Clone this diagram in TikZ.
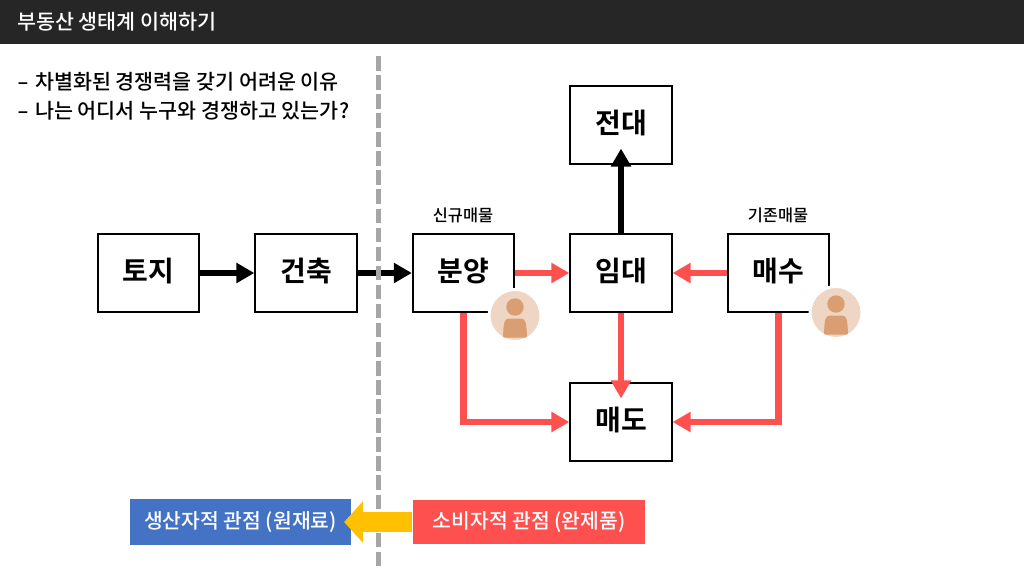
\documentclass[tikz,border=0pt]{standalone}
\usepackage{fontspec}
\setmainfont{Noto Sans CJK KR}[BoldFont={Noto Sans CJK KR Bold}]
\newfontfamily\medfont{Noto Sans CJK KR Medium}
\usetikzlibrary{arrows.meta}
\definecolor{barc}{HTML}{262626}
\definecolor{redc}{HTML}{FF5050}
\definecolor{bluec}{HTML}{4472C4}
\definecolor{yelc}{HTML}{FFC000}
\definecolor{dashc}{HTML}{A6A6A6}
\definecolor{skinbg}{HTML}{EFD5C3}
\definecolor{skinfg}{HTML}{D99F73}
\tikzset{
  x=0.75pt,y=-0.75pt,
  box/.style={draw=black,line width=1.5pt,fill=white,minimum width=76pt,minimum height=58.8pt,inner sep=0pt,text height=18pt,text depth=4.6pt,font=\fontsize{21}{25}\selectfont\bfseries},
  blackarrow/.style={line width=5pt,black,-{Triangle[length=13.5pt,width=14.5pt]}},
  redarrow/.style={line width=5pt,redc,-{Triangle[length=13.5pt,width=14.5pt]}},
  into/.style={shorten >=-12.5pt},
  caption/.style={inner sep=0pt,font=\fontsize{12.3}{15}\medfont},
  view/.style={inner sep=0pt,text=white,font=\fontsize{15.3}{18}\medfont},
  avatarbg/.style={circle,fill=skinbg,draw=white,line width=2.2pt,minimum size=39pt,inner sep=0pt},
  bullet/.style={anchor=west,inner sep=0pt,font=\fontsize{15.5}{19}\medfont}
}
\newcommand{\wdash}{\scalebox{1.6}[1]{-}\hspace{4.6pt}}
\newcommand{\avatar}[2]{%
  \node[avatarbg] (#1) at (#2) {};
  \begin{scope}[shift={(#2)}]
    \fill[skinfg] (0,-8.5) circle (8.7);
    \clip (0,0) circle (24.5);
    \fill[skinfg] (-12,22) .. controls (-11.5,8) and (-11,3) .. (-6,3) -- (6,3) .. controls (11,3) and (11.5,8) .. (12,22) -- cycle;
  \end{scope}}
\begin{document}
\begin{tikzpicture}
\useasboundingbox (0,0) rectangle (1024,576);
\fill[white] (0,0) rectangle (1024,576);
\fill[barc] (0,0) rectangle (1024,43.5);
\node[anchor=west,inner sep=0pt,text=white,font=\fontsize{15.5}{19}\medfont] (title) at (17,22) {부동산 생태계 이해하기};
\node[bullet] (l1) at (17,82) {\wdash 차별화된 경쟁력을 갖기 어려운 이유};
\node[bullet] (l2) at (17,111) {\wdash 나는 어디서 누구와 경쟁하고 있는가?};
\coordinate (dtop) at (378.5,56);
\coordinate (dbot) at (378.5,570);
\node[box] (toji) at (148.5,273) {토지};
\node[box] (geon) at (306,273) {건축};
\node[box] (bun) at (463.5,273) {분양};
\node[box] (im) at (621,273) {임대};
\node[box] (mae) at (778.5,273) {매수};
\node[box] (jeon) at (621,125) {전대};
\node[box] (mdo) at (621,422) {매도};
\node[caption] (c1) at (463,215) {신규매물};
\node[caption] (c2) at (778,215) {기존매물};
\draw[blackarrow] (toji) -- (geon);
\draw[blackarrow] (geon) -- (bun);
\draw[blackarrow,into] (im) -- (jeon);
\draw[dashc,line width=3.7pt,dash pattern=on 10.9pt off 3.4pt] (dtop) -- (dbot);
\draw[redarrow] (bun) -- (im);
\draw[redarrow] (mae) -- (im);
\draw[redarrow,into] (im) -- (mdo);
\draw[redarrow] (bun.south) |- (mdo.west);
\draw[redarrow] (mae.south) |- (mdo.east);
\avatar{a1}{515,315.5}
\avatar{a2}{836,312.5}
\node[view,fill=bluec,minimum width=166pt,minimum height=34.5pt] (prod) at (240.5,522) {생산자적 관점 (원재료)};
\node[view,fill=redc,minimum width=174.5pt,minimum height=33pt] (cons) at (529,522) {소비자적 관점 (완제품)};
\draw[yelc,line width=15pt,-{Triangle[length=14pt,width=30pt]},shorten >=-5.5pt] (cons) -- (prod);
\end{tikzpicture}
\end{document}
